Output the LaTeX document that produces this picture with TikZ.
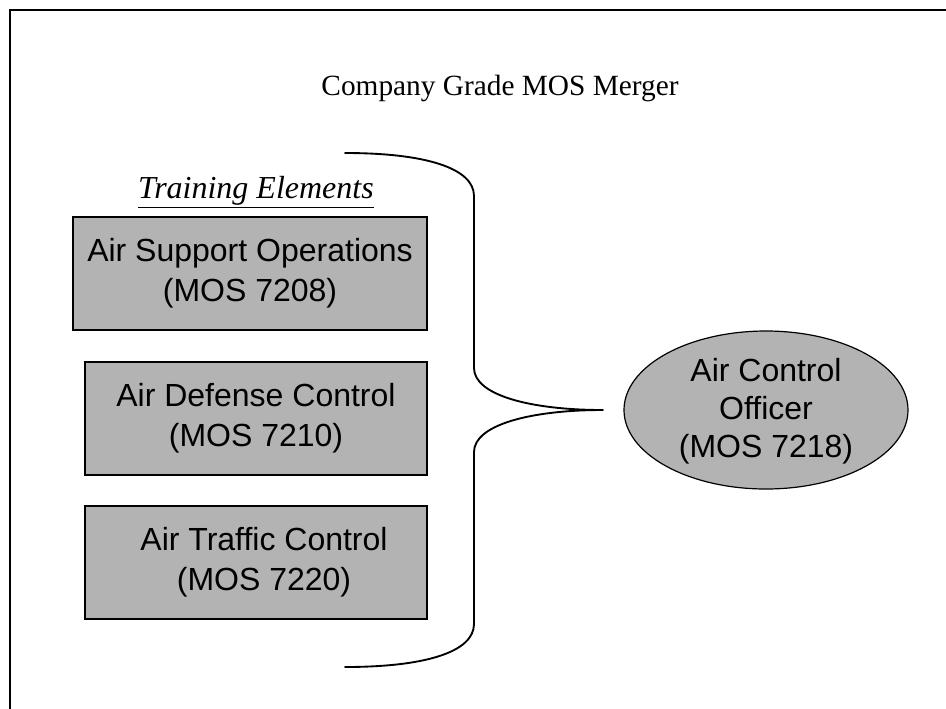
\documentclass[tikz,border=0pt]{standalone}
\usepackage{fontspec}
\setmainfont{Liberation Serif}
\newfontfamily\arialf{Liberation Sans}
\usetikzlibrary{shapes.geometric}
\definecolor{boxgray}{RGB}{179,179,179}
\begin{document}
\begin{tikzpicture}[x=0.75pt,y=-0.75pt,
  elembox/.style={draw=black,line width=1.5pt,fill=boxgray,rectangle,inner sep=0pt,
    minimum height=84.75pt,align=center,font=\arialf\fontsize{24}{30}\selectfont},
  ovaltext/.style={align=center,inner sep=0pt,font=\arialf\fontsize{24}{28.5}\selectfont},
  bracelines/.style={line width=1.4pt,line cap=round,line join=round},
  framelines/.style={line width=1.5pt}]
\useasboundingbox (0,0) rectangle (946,708);
% frame
\coordinate (fbl) at (9.5,710);
\coordinate (ftl) at (9.5,9.5);
\coordinate (ftr) at (948,9.5);
\draw[framelines] (fbl) -- (ftl) -- (ftr);
% title
\node[font=\fontsize{22}{26}\selectfont,inner sep=0pt] (title) at (500,88) {Company Grade MOS Merger};
\node[font=\fontsize{24}{28}\selectfont\itshape,inner sep=0pt] (train) at (256,192) {\underline{Training Elements}};
% boxes
\node[elembox,minimum width=265.5pt] (b1) at (250,273.5) {Air Support Operations\\(MOS 7208)};
\node[elembox,minimum width=256.5pt] (b2) at (256,418.5) {Air Defense Control\\(MOS 7210)};
\node[elembox,minimum width=256.5pt] (b3) at (256,562.5) {\hspace*{12pt}Air Traffic Control\\\hspace*{12pt}(MOS 7220)};
% ellipse
\node[ellipse,draw=black,line width=0.9pt,fill=boxgray,inner sep=0pt,
      minimum width=213pt,minimum height=118.5pt] (aco) at (766,410) {};
\node[ovaltext] (acot) at (766,411) {Air Control\\Officer\\(MOS 7218)};
% brace
\coordinate (btop) at (345,153);
\coordinate (tip) at (603,410);
\coordinate (bbot) at (345,667);
\draw[bracelines] (btop) .. controls (425,153) and (474,168) .. (474,196)
  -- (474,368) .. controls (474,395) and (530,410) .. (tip)
  .. controls (530,410) and (474,425) .. (474,452)
  -- (474,624) .. controls (474,652) and (425,667) .. (bbot);
\end{tikzpicture}
\end{document}
